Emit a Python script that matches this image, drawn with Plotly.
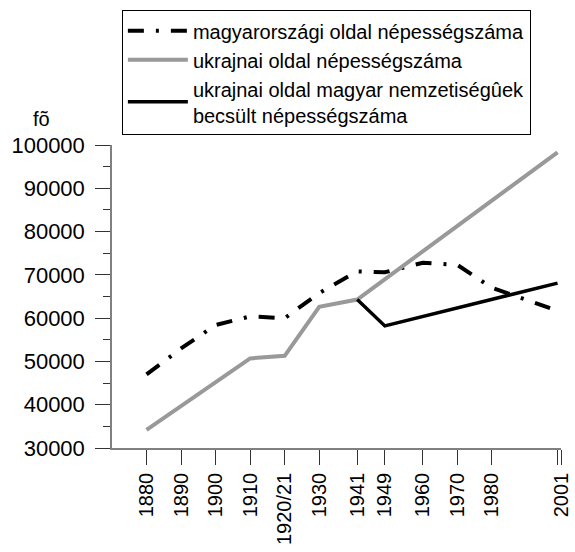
import plotly.graph_objects as go

# --- data ---
hun_years = [1880, 1890, 1900, 1910, 1920, 1930, 1941, 1949, 1960, 1970, 1980, 1999]
hun_pop = [47000, 53000, 58400, 60400, 60000, 65800, 70800, 70600, 72800, 72300, 67000, 61700]

ukr_years = [1880, 1890, 1900, 1910, 1920, 1930, 1941, 1999]
ukr_pop = [34200, 39700, 45200, 50700, 51300, 62600, 64300, 98300]

ukr_hu_years = [1941, 1949, 1999]
ukr_hu_pop = [64300, 58200, 68100]

tick_years = [1880, 1890, 1900, 1910, 1920, 1930, 1941, 1949, 1960, 1970, 1980, 1999, 2000]
tick_labels = ["1880", "1890", "1900", "1910", "1920/21", "1930", "1941", "1949",
               "1960", "1970", "1980", "", "2001"]

names = ["magyarországi oldal népességszáma",
         "ukrajnai oldal népességszáma",
         "ukrajnai oldal magyar nemzetiségûek<br>becsült népességszáma"]

FONT = "Liberation Sans, Arial, sans-serif"

fig = go.Figure()
fig.add_trace(go.Scatter(x=hun_years, y=hun_pop, mode="lines", name=names[0],
                         line=dict(color="black", width=4, dash="16px,12px,3px,12px")))
fig.add_trace(go.Scatter(x=ukr_years, y=ukr_pop, mode="lines", name=names[1],
                         line=dict(color="#999999", width=4)))
fig.add_trace(go.Scatter(x=ukr_hu_years, y=ukr_hu_pop, mode="lines", name=names[2],
                         line=dict(color="black", width=3.5)))

fig.update_layout(
    width=575, height=552,
    margin=dict(l=112, r=14, t=144, b=104),
    paper_bgcolor="white", plot_bgcolor="white",
    font=dict(family=FONT, size=20, color="black"),
    showlegend=True,
    legend=dict(x=0.022, y=1.44, xanchor="left", yanchor="top",
                bordercolor="black", borderwidth=1, bgcolor="white",
                font=dict(family=FONT, size=20, color="black"),
                itemwidth=60, tracegroupgap=0),
    xaxis=dict(range=[1870, 2000], tickmode="array", tickvals=tick_years, ticktext=tick_labels,
               tickangle=-90, ticks="outside", ticklen=15, tickcolor="#333333", tickwidth=1,
               showline=True, linecolor="#808080", linewidth=1.5, showgrid=False, zeroline=False,
               automargin=False,
               tickfont=dict(family=FONT, size=20, color="black")),
    yaxis=dict(range=[30000, 100000], dtick=10000, tick0=0, tickformat="d", ticks="outside", ticklen=15,
               tickcolor="#333333", tickwidth=1, showline=True, linecolor="#808080", linewidth=1.5,
               showgrid=False, zeroline=False, ticklabelstandoff=6, automargin=False,
               tickfont=dict(family=FONT, size=22, color="black"),
               minor=dict(dtick=5000, ticks="outside", ticklen=7, tickcolor="#333333", showgrid=False)),
)
fig.add_annotation(text="fõ", xref="paper", yref="paper", x=-0.156, y=1.085,
                   xanchor="center", yanchor="middle", showarrow=False,
                   font=dict(family=FONT, size=20, color="black"))

# remove the default page margin so the 575x552 figure fills the window exactly
fig.write_html("out.html", config={"displayModeBar": False},
               post_script="document.body.style.margin='0';")
